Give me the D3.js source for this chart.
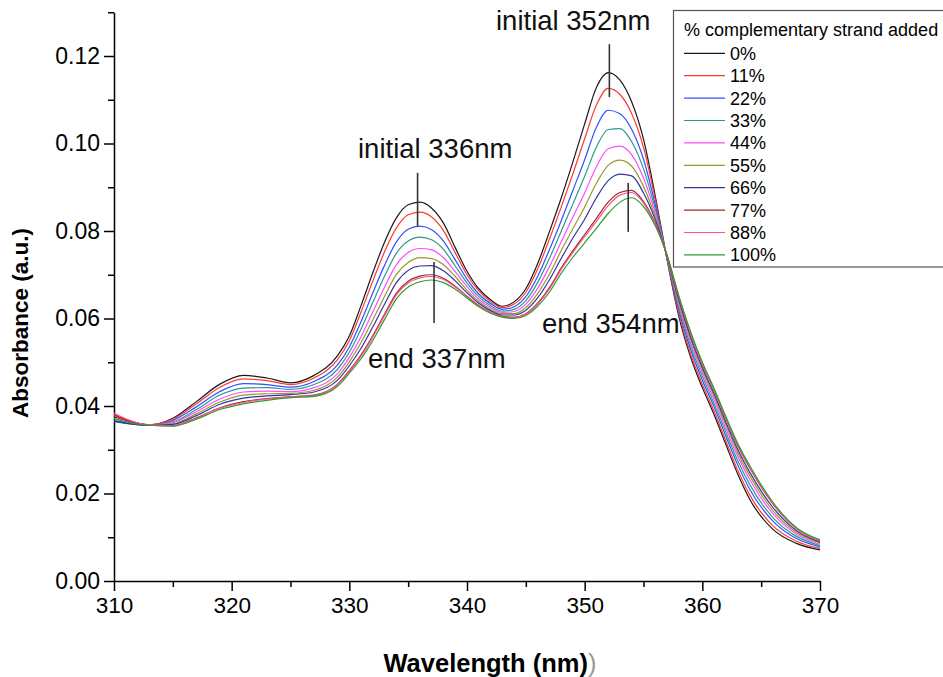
<!DOCTYPE html>
<html>
<head>
<meta charset="utf-8">
<script src="https://cdn.jsdelivr.net/npm/d3@7"></script>
<style>
  body { margin: 0; background: #fff; }
  svg { font-family: "Liberation Sans", Arial, sans-serif; }
</style>
</head>
<body>
<svg id="chart" width="943" height="677"></svg>
<script>
// wavelengths (nm) shared by every spectrum
const wavelengths = [310,311,313,315,317,319,321,323,325,327,329,330,331,332,333,334,335,336,337,338,339,340,341,342,343,344,345,346,347,348,349,350,351,352,353,354,355,356,357,358,359,360,361,362,363,364,366,368,370];

// absorbance per titration step
const abs0   = [.0376,.0367,.0357,.0372,.0410,.0450,.0470,.0464,.0453,.0470,.0515,.0560,.0630,.0705,.0775,.0830,.0860,.0866,.0852,.0818,.0762,.0708,.0668,.0643,.0628,.0638,.0668,.0725,.0798,.0875,.0958,.1045,.1128,.1162,.1145,.1095,.1010,.0880,.0735,.0605,.0512,.0442,.0380,.0312,.0245,.0188,.0118,.0086,.0071];
const abs11  = [.0378,.0368,.0357,.0370,.0405,.0443,.0462,.0458,.0449,.0464,.0506,.0549,.0615,.0686,.0753,.0807,.0837,.0843,.0832,.0801,.0750,.0700,.0663,.0639,.0625,.0633,.0660,.0713,.0781,.0854,.0931,.1011,.1088,.1126,.1112,.1068,.0991,.0872,.0736,.0611,.0519,.0449,.0388,.0320,.0254,.0198,.0126,.0091,.0074];
const abs22  = [.0364,.0360,.0356,.0367,.0398,.0433,.0451,.0449,.0443,.0456,.0494,.0535,.0593,.0659,.0722,.0775,.0804,.0811,.0803,.0777,.0734,.0690,.0656,.0634,.0621,.0627,.0650,.0696,.0757,.0823,.0893,.0963,.1037,.1076,.1068,.1032,.0964,.0860,.0738,.0619,.0529,.0459,.0398,.0331,.0266,.0211,.0137,.0097,.0078];
const abs33  = [.0368,.0362,.0357,.0364,.0392,.0425,.0441,.0442,.0438,.0449,.0484,.0523,.0576,.0637,.0697,.0749,.0777,.0786,.0780,.0758,.0720,.0681,.0650,.0629,.0617,.0621,.0641,.0682,.0737,.0799,.0862,.0925,.0992,.1032,.1034,.1004,.0942,.0850,.0739,.0626,.0538,.0468,.0406,.0340,.0276,.0222,.0145,.0102,.0081];
const abs44  = [.0380,.0369,.0357,.0362,.0387,.0416,.0432,.0434,.0433,.0442,.0474,.0511,.0559,.0615,.0672,.0723,.0751,.0760,.0757,.0739,.0707,.0673,.0644,.0625,.0614,.0616,.0633,.0669,.0718,.0775,.0832,.0887,.0947,.0988,.0994,.0974,.0921,.0841,.0741,.0632,.0546,.0476,.0415,.0349,.0286,.0233,.0154,.0107,.0084];
const abs55  = [.0372,.0364,.0356,.0359,.0382,.0409,.0425,.0428,.0429,.0436,.0466,.0501,.0545,.0597,.0651,.0701,.0728,.0739,.0737,.0723,.0696,.0665,.0639,.0621,.0611,.0611,.0625,.0657,.0701,.0755,.0805,.0855,.0909,.0950,.0962,.0948,.0902,.0832,.0742,.0638,.0553,.0483,.0422,.0357,.0294,.0242,.0161,.0111,.0087];
const abs66  = [.0366,.0361,.0356,.0358,.0378,.0404,.0418,.0423,.0426,.0432,.0459,.0492,.0532,.0581,.0633,.0682,.0710,.0720,.0721,.0709,.0686,.0659,.0635,.0618,.0608,.0608,.0619,.0647,.0688,.0737,.0784,.0827,.0876,.0915,.0930,.0926,.0887,.0826,.0743,.0643,.0558,.0488,.0428,.0363,.0301,.0250,.0168,.0115,.0089];
const abs77  = [.0380,.0369,.0356,.0355,.0373,.0396,.0410,.0417,.0421,.0425,.0450,.0481,.0517,.0561,.0610,.0658,.0685,.0697,.0700,.0692,.0674,.0651,.0630,.0614,.0605,.0603,.0611,.0635,.0670,.0715,.0755,.0792,.0829,.0866,.0888,.0893,.0867,.0817,.0744,.0649,.0566,.0496,.0436,.0372,.0310,.0260,.0176,.0120,.0092];
const abs88  = [.0384,.0371,.0357,.0355,.0372,.0395,.0408,.0416,.0421,.0424,.0449,.0479,.0514,.0558,.0607,.0654,.0681,.0693,.0696,.0689,.0672,.0650,.0629,.0614,.0604,.0602,.0610,.0633,.0667,.0712,.0751,.0787,.0822,.0858,.0882,.0888,.0864,.0815,.0745,.0650,.0567,.0497,.0437,.0373,.0312,.0261,.0177,.0120,.0093];
const abs100 = [.0372,.0364,.0356,.0354,.0370,.0392,.0405,.0413,.0419,.0422,.0445,.0475,.0508,.0550,.0598,.0645,.0672,.0684,.0688,.0682,.0667,.0647,.0627,.0612,.0603,.0600,.0607,.0628,.0660,.0703,.0740,.0773,.0806,.0840,.0866,.0876,.0856,.0812,.0745,.0652,.0570,.0500,.0440,.0376,.0315,.0265,.0180,.0122,.0094];

const seriesLabels = ["0%","11%","22%","33%","44%","55%","66%","77%","88%","100%"];
const seriesValues = [abs0, abs11, abs22, abs33, abs44, abs55, abs66, abs77, abs88, abs100];
const seriesColors = ["#1a1a1a","#ff3a2a","#3050ff","#2a9a90","#ff4cff","#999930","#34349c","#9c2a2a","#ff5090","#2e9e2e"];

const xTicks = [310,320,330,340,350,360,370];
const yTicks = [0,0.02,0.04,0.06,0.08,0.10,0.12];

// peak markers: [wavelength, top, bottom] and their captions
const markers = [[335.8,0.0933,0.0811],[337.2,0.0729,0.0590],[352.1,0.1227,0.1106],[353.7,0.0910,0.0798]];
const captions = [
  {text:"initial 336nm", x:358, y:158},
  {text:"end 337nm", x:368, y:368},
  {text:"initial 352nm", x:496, y:30},
  {text:"end 354nm", x:542, y:333}
];

const svg = d3.select("#chart");

const x = d3.scaleLinear().domain([310, 370]).range([114, 820]);
const y = d3.scaleLinear().domain([0, 0.13]).range([581, 12.25]);

// minor ticks first (no labels)
svg.append("g")
    .attr("transform", `translate(0,${y(0)})`)
    .call(d3.axisBottom(x).tickValues(d3.range(315, 370, 10)).tickSize(6).tickFormat("").tickSizeOuter(0))
    .call(g => g.select(".domain").remove());
svg.append("g")
    .attr("transform", `translate(${x(310)},0)`)
    .call(d3.axisLeft(y).tickValues([0.01,0.03,0.05,0.07,0.09,0.11,0.13]).tickSize(6).tickFormat("").tickSizeOuter(0))
    .call(g => g.select(".domain").remove());

// major axes
const xAxis = svg.append("g")
    .attr("transform", `translate(0,${y(0)})`)
    .call(d3.axisBottom(x).tickValues(xTicks).tickSize(10).tickPadding(6).tickSizeOuter(0).tickFormat(d3.format("d")));
const yAxis = svg.append("g")
    .attr("transform", `translate(${x(310)},0)`)
    .call(d3.axisLeft(y).tickValues(yTicks).tickSize(10).tickPadding(4).tickSizeOuter(0).tickFormat(d3.format(".2f")));

svg.selectAll(".tick line, .domain").attr("stroke", "#000").attr("stroke-width", 1.5);
xAxis.selectAll("text").attr("font-size", 22.5).attr("fill", "#000").attr("font-family", "Liberation Sans, Arial, sans-serif");
yAxis.selectAll("text").attr("font-size", 23).attr("fill", "#000").attr("font-family", "Liberation Sans, Arial, sans-serif");

// axis titles
svg.append("text")
    .attr("x", 490).attr("y", 672)
    .attr("text-anchor", "middle")
    .attr("font-size", 25.5).attr("font-weight", "bold")
    .text("Wavelength (nm)")
    .append("tspan").attr("font-weight", "normal").attr("fill", "#999").text(")");

svg.append("text")
    .attr("transform", "translate(28,323) rotate(-90)")
    .attr("text-anchor", "middle")
    .attr("font-size", 22.5).attr("font-weight", "bold")
    .text("Absorbance (a.u.)");

// spectra
const line = d3.line()
    .x((d, i) => x(wavelengths[i]))
    .y(d => y(d))
    .curve(d3.curveMonotoneX);

svg.append("g").selectAll("path")
    .data(seriesValues)
    .join("path")
    .attr("d", d => line(d))
    .attr("fill", "none")
    .attr("stroke", (d, i) => seriesColors[i])
    .attr("stroke-width", 1.2);

// peak markers
svg.append("g").selectAll("line")
    .data(markers)
    .join("line")
    .attr("x1", d => x(d[0])).attr("x2", d => x(d[0]))
    .attr("y1", d => y(d[1])).attr("y2", d => y(d[2]))
    .attr("stroke", "#333").attr("stroke-width", 1.6);

svg.append("g").selectAll("text")
    .data(captions)
    .join("text")
    .attr("x", d => d.x).attr("y", d => d.y)
    .attr("font-size", 27.5)
    .attr("fill", "#111")
    .text(d => d.text);

// legend
const legend = svg.append("g");
legend.append("rect")
    .attr("x", 673.5).attr("y", 10.5)
    .attr("width", 300).attr("height", 256.5)
    .attr("fill", "#fff").attr("stroke", "#555").attr("stroke-width", 1.2);
legend.append("text")
    .attr("x", 684).attr("y", 36)
    .attr("font-size", 18)
    .text("% complementary strand added");

const item = legend.selectAll("g.item")
    .data(seriesLabels)
    .join("g")
    .attr("class", "item")
    .attr("transform", (d, i) => `translate(0,${53.3 + i * 22.4})`);
item.append("line")
    .attr("x1", 684).attr("x2", 725)
    .attr("stroke", (d, i) => seriesColors[i]).attr("stroke-width", 1.2);
item.append("text")
    .attr("x", 730).attr("y", 6.5)
    .attr("font-size", 18)
    .text(d => d);
</script>
</body>
</html>
